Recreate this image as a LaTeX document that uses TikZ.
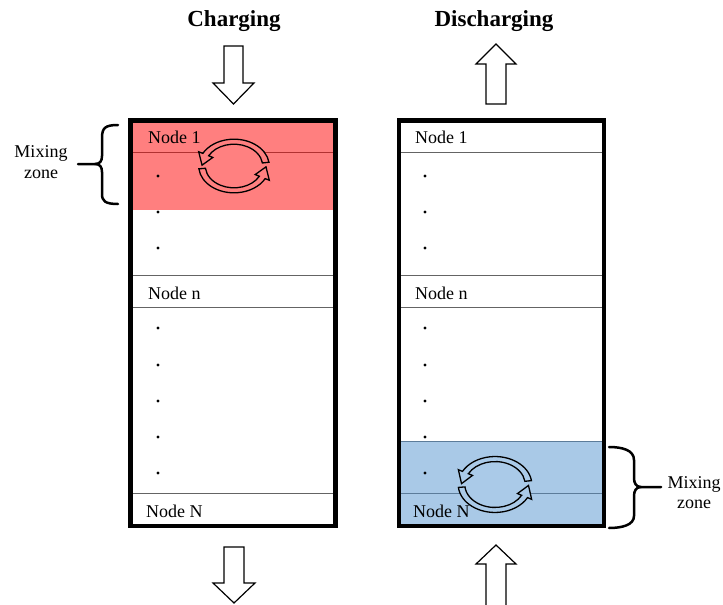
\documentclass[tikz,border=0pt]{standalone}
\usepackage{fontspec}
\setmainfont{Liberation Serif}
\definecolor{redbg}{RGB}{255,128,128}
\definecolor{bluebase}{RGB}{85,149,209}
\definecolor{bluebg}{RGB}{170,202,232}
\definecolor{rowline}{RGB}{100,100,100}
\tikzset{
  tank/.style={draw=black, line width=4.5pt},
  rowsep/.style={draw=rowline, line width=1pt},
  lbl/.style={font=\fontsize{18}{20}\selectfont, inner sep=0pt, anchor=base west},
  ttl/.style={font=\fontsize{23}{25}\selectfont\bfseries, inner sep=0pt, anchor=base},
  mix/.style={font=\fontsize{18}{20}\selectfont, inner sep=0pt, anchor=base},
  blockarrow/.style={draw=black, fill=white, line width=1.2pt, line join=miter},
  brace/.style={draw=black, line width=2.5pt, line cap=round},
  dotmark/.style={circle, fill=black, inner sep=0pt, minimum size=3.2pt},
  circarrow/.style={draw=black, line width=1.3pt, line join=miter},
}
\newcommand\mycircarr[3]{%
  \begin{scope}[shift={#1}, yscale=-0.76]
    \fill[#2] (0,0) circle[radius=#3];
    \path[circarrow, fill=#2] (8:{#3+3.3}) arc[start angle=8, end angle=152, radius={#3+3.3}]
      -- (152:{#3+8}) -- (178:#3) -- (152:{#3-8}) -- (152:{#3-3.3})
      arc[start angle=152, end angle=8, radius={#3-3.3}] -- cycle;
    \path[circarrow, fill=#2] (186:{#3+3.3}) arc[start angle=186, end angle=332, radius={#3+3.3}]
      -- (332:{#3+8}) -- (358:#3) -- (332:{#3-8}) -- (332:{#3-3.3})
      arc[start angle=332, end angle=186, radius={#3-3.3}] -- cycle;
  \end{scope}}
\begin{document}
\begin{tikzpicture}[x=1pt, y=-1pt]
\useasboundingbox (0,0) rectangle (723,605);
\fill[white] (0,0) rectangle (723,605);
\clip (0,0) rectangle (723,605);

% titles
\node[ttl] (charging) at (234,27) {Charging};
\node[ttl] (discharging) at (494,26) {Discharging};

% tank corners
\coordinate (LT) at (130.5,120.5);
\coordinate (LB) at (335.5,526);
\coordinate (RT) at (399,120.5);
\coordinate (RB) at (604,526);

% row separators
\foreach \yy in {152,275,307,493} {
  \draw[rowsep] (130.5,\yy) -- (335.5,\yy);
}
\foreach \yy in {152,275,307,441,493} {
  \draw[rowsep] (399,\yy) -- (604,\yy);
}

% mixing zone fills
\fill[red, opacity=0.5] (130.5,120.5) rectangle (335.5,210);
\fill[bluebase, opacity=0.5] (399,441) rectangle (604,526);

% circular arrows
\mycircarr{(234,166)}{redbg}{32}
\mycircarr{(495,484.5)}{bluebg}{33.5}

% labels
\node[lbl] (ln1) at (148,143) {Node 1};
\node[lbl] (lnn) at (148,299) {Node n};
\node[lbl] (lnN) at (146,517) {Node N};
\node[lbl] (rn1) at (415,143) {Node 1};
\node[lbl] (rnn) at (415,299) {Node n};
\node[lbl] (rnN) at (413,517) {Node N};

% dots
\foreach \yy [count=\i] in {176,212,248,328,365,401,437,473} {
  \node[dotmark] (ld\i) at (158,\yy) {};
  \node[dotmark] (rd\i) at (425,\yy) {};
}

% tank outlines
\draw[tank] (LT) rectangle (LB);
\draw[tank] (RT) rectangle (RB);

% block arrows
\draw[blockarrow] (224,46) -- (243,46) -- (243,83) -- (254,83) -- (233.5,104) -- (213,83) -- (224,83) -- cycle;
\draw[blockarrow] (224,547) -- (244,547) -- (244,583) -- (255,583) -- (234,603) -- (213,583) -- (224,583) -- cycle;
\draw[blockarrow] (486,104) -- (506,104) -- (506,64) -- (516,64) -- (496,44) -- (476,64) -- (486,64) -- cycle;
\draw[blockarrow] (486,612) -- (506,612) -- (506,564) -- (516,564) -- (496,545) -- (476,564) -- (486,564) -- cycle;

% braces
\draw[brace] (118,125) .. controls (105,125) and (102,128) .. (102,138) -- (102,156)
  .. controls (102,161) and (100,164) .. (95,164) -- (78,164);
\draw[brace] (95,164) .. controls (100,164) and (102,167) .. (102,172) -- (102,194)
  .. controls (102,201) and (105,204) .. (118,204);
\draw[brace] (609,447) .. controls (622,447) and (634,450) .. (634,460) -- (634,478)
  .. controls (634,483) and (636,487) .. (641,487) -- (661,487);
\draw[brace] (641,487) .. controls (636,487) and (634,491) .. (634,496) -- (634,516)
  .. controls (634,525) and (622,528) .. (609,528);

% mixing zone labels
\node[mix] (mixl1) at (41,157) {Mixing};
\node[mix] (mixl2) at (41,178) {zone};
\node[mix] (mixr1) at (694,488) {Mixing};
\node[mix] (mixr2) at (694,508) {zone};
\end{tikzpicture}
\end{document}
